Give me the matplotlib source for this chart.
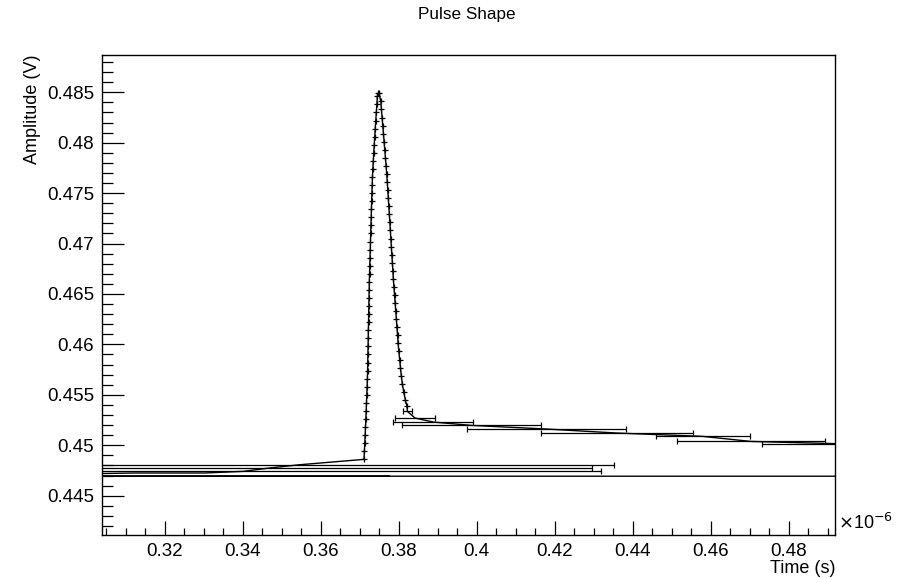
import matplotlib
matplotlib.use("Agg")
import matplotlib.pyplot as plt
from matplotlib.ticker import MultipleLocator

plt.rcParams['font.family'] = ['Liberation Sans', 'DejaVu Sans']

# ---- data (time in units of 1e-6 s, amplitude in V) ----
pre_time = [0.55988, 0.26238, 0.31238, 0.33033, 0.34008, 0.34700, 0.35469]
pre_amp = [0.44693, 0.44693, 0.44725, 0.44725, 0.44741, 0.44775, 0.44807]
pre_err = [0.0, 0.1154, 0.0, 0.0, 0.0918, 0.0826, 0.0805]

rise_amp = [0.4486, 0.4494, 0.4502, 0.4510, 0.4518, 0.4526, 0.4534, 0.4542, 0.4550,
            0.4558, 0.4566, 0.4574, 0.4582, 0.4590, 0.4598, 0.4606, 0.4614, 0.4622,
            0.4630, 0.4638, 0.4646, 0.4654, 0.4662, 0.4670, 0.4678, 0.4686, 0.4694,
            0.4702, 0.4710, 0.4718, 0.4726, 0.4734, 0.4742, 0.4750, 0.4758, 0.4766,
            0.4774, 0.4782, 0.4790, 0.4798, 0.4806, 0.4814, 0.4822, 0.4830, 0.4838,
            0.4846, 0.4849]
rise_time = [0.37110, 0.37120, 0.37130, 0.37139, 0.37148, 0.37157, 0.37166, 0.37174,
             0.37182, 0.37190, 0.37197, 0.37202, 0.37206, 0.37210, 0.37214, 0.37218,
             0.37222, 0.37226, 0.37230, 0.37234, 0.37238, 0.37242, 0.37246, 0.37252,
             0.37258, 0.37264, 0.37270, 0.37276, 0.37282, 0.37288, 0.37294, 0.37300,
             0.37306, 0.37312, 0.37319, 0.37326, 0.37336, 0.37348, 0.37360, 0.37372,
             0.37385, 0.37398, 0.37412, 0.37426, 0.37440, 0.37452, 0.37470]

fall_amp = [0.4849, 0.4841, 0.4833, 0.4825, 0.4817, 0.4809, 0.4801, 0.4793, 0.4785,
            0.4777, 0.4769, 0.4761, 0.4753, 0.4745, 0.4737, 0.4729, 0.4721, 0.4713,
            0.4705, 0.4697, 0.4689, 0.4681, 0.4673, 0.4665, 0.4657, 0.4649, 0.4641,
            0.4633, 0.4625, 0.4617, 0.4609, 0.4601, 0.4593, 0.4585, 0.4577, 0.4569,
            0.4561, 0.4553, 0.4545, 0.4539]
fall_time = [0.37500, 0.37540, 0.37557, 0.37574, 0.37591, 0.37609, 0.37626, 0.37642,
             0.37660, 0.37676, 0.37692, 0.37706, 0.37720, 0.37733, 0.37746, 0.37760,
             0.37773, 0.37786, 0.37799, 0.37811, 0.37824, 0.37837, 0.37850, 0.37862,
             0.37878, 0.37893, 0.37909, 0.37924, 0.37940, 0.37955, 0.37970, 0.37985,
             0.38003, 0.38024, 0.38045, 0.38066, 0.38092, 0.38128, 0.38170, 0.38210]

tail_time = [0.38225, 0.38418, 0.38887, 0.39862, 0.41785, 0.43597, 0.45795, 0.47028, 0.49574, 0.53000]
tail_amp = [0.45335, 0.45270, 0.45230, 0.45197, 0.45161, 0.45121, 0.45088, 0.45038, 0.45012, 0.44970]
tail_err = [0.0011, 0.0051, 0.0103, 0.0179, 0.0204, 0.0195, 0.0120, 0.0190, 0.0226, 0.0300]

x_ticks = [0.32, 0.34, 0.36, 0.38, 0.40, 0.42, 0.44, 0.46, 0.48]
y_ticks = [0.445, 0.45, 0.455, 0.46, 0.465, 0.47, 0.475, 0.48, 0.485]

# assemble the graph in drawing order
xs = pre_time + rise_time + fall_time + tail_time
ys = pre_amp + rise_amp + fall_amp + tail_amp
exs = pre_err + [0.0] * len(rise_time) + [0.0] * len(fall_time) + tail_err

fig = plt.figure(figsize=(9.04, 5.78), dpi=100)
ax = fig.add_axes([102.3 / 904, 1 - 535 / 578, (835 - 102.3) / 904, (535 - 55) / 578])

ax.plot(xs, ys, color='black', lw=1.0, zorder=2)

# horizontal error bars only where an x error exists
bx = [x for x, e in zip(xs, exs) if e > 0]
by = [y for y, e in zip(ys, exs) if e > 0]
be = [e for e in exs if e > 0]
ax.errorbar(bx[:1], by[:1], xerr=be[:1], fmt='none', ecolor='black',
            elinewidth=1.2, capsize=0, zorder=3)
ax.errorbar(bx[1:], by[1:], xerr=be[1:], fmt='none', ecolor='black', elinewidth=0.9,
            capsize=2.5, capthick=0.9, zorder=3)
ax.plot(rise_time + fall_time, rise_amp + fall_amp, linestyle='none', marker='+',
        ms=5, mew=0.9, color='black', zorder=4)

ax.set_xlim(0.3040, 0.49187)
ax.set_ylim(0.4411, 0.4887)

ax.set_xticks(x_ticks)
ax.set_yticks(y_ticks)
ax.xaxis.set_minor_locator(MultipleLocator(0.005))
ax.yaxis.set_minor_locator(MultipleLocator(0.001))
ax.set_xticklabels([f"{v:g}" for v in x_ticks])
ax.set_yticklabels([f"{v:g}" for v in y_ticks])

ax.tick_params(axis='both', which='both', direction='in', top=False, right=False,
               labelsize=13.5, width=0.9)
ax.tick_params(axis='y', which='major', length=15.8, pad=6)
ax.tick_params(axis='y', which='minor', length=7.9)
ax.tick_params(axis='x', which='major', length=10, pad=6)
ax.tick_params(axis='x', which='minor', length=5)
for s in ax.spines.values():
    s.set_linewidth(1.0)
    s.set_color('black')

ax.set_xlabel('Time (s)', fontsize=13, loc='right', labelpad=0)
ax.set_ylabel('Amplitude (V)', fontsize=13, loc='top', labelpad=4)
ax.text(1.004, 0.005, r'$\times$10$^{-6}$', transform=ax.transAxes, fontsize=13,
        ha='left', va='bottom')
fig.text(0.5165, 1 - 15 / 578, 'Pulse Shape', fontsize=12.3, ha='center', va='center')

fig.savefig('out.png', dpi=100)
